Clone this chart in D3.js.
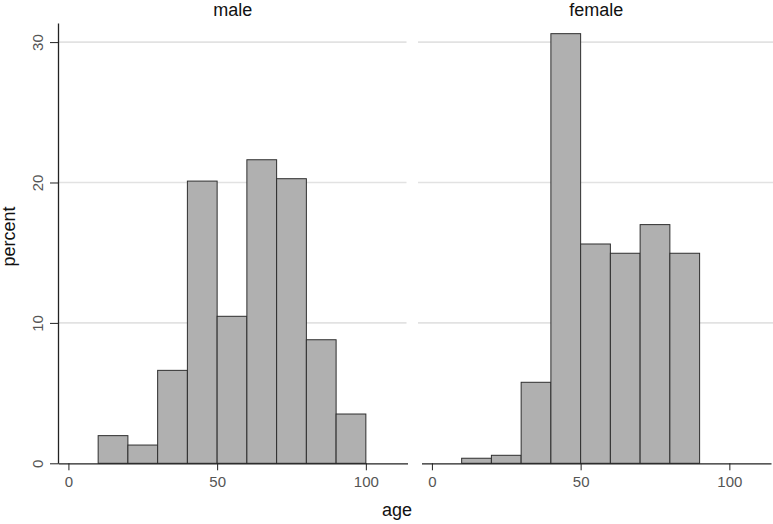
<!DOCTYPE html>
<html>
<head>
<meta charset="utf-8">
<script src="https://cdn.jsdelivr.net/npm/d3@7"></script>
<style>
  html, body { margin: 0; padding: 0; background: #fff; }
  svg { display: block; font-family: "Liberation Sans", Arial, sans-serif; }
</style>
</head>
<body>
<svg id="chart" width="773" height="524"></svg>
<script>
// ---- data ----
const binStarts = [10, 20, 30, 40, 50, 60, 70, 80, 90];
const binWidth = 10;
const maleValues = [1.97, 1.30, 6.62, 20.10, 10.47, 21.62, 20.27, 8.80, 3.51];
const femaleValues = [0.36, 0.57, 5.77, 30.60, 15.62, 14.96, 17.00, 14.96, 0];
const panelTitles = ["male", "female"];
const xTickValues = [0, 50, 100];
const yTickValues = [0, 10, 20, 30];
const yGridValues = [10, 20, 30];
const xLabel = "age";
const yLabel = "percent";

const svg = d3.select("#chart");

const y = d3.scaleLinear().domain([0, 31.36]).range([463.3, 23]);
const xDomain = [-3.5, 114];

const panels = [
  { title: panelTitles[0], values: maleValues, range: [58, 407.5], grid: [58, 406.5], yAxis: true },
  { title: panelTitles[1], values: femaleValues, range: [421.5, 771], grid: [418, 773], yAxis: false }
];

panels.forEach(p => {
  const x = d3.scaleLinear().domain(xDomain).range(p.range);
  const g = svg.append("g");

  // gridlines
  g.selectAll("line.grid").data(yGridValues).enter().append("line")
    .attr("class", "grid")
    .attr("x1", p.grid[0]).attr("x2", p.grid[1])
    .attr("y1", d => y(d)).attr("y2", d => y(d))
    .attr("stroke", "#e2e2e2").attr("stroke-width", 1.6);

  // bars
  const data = binStarts.map((s, i) => ({ s: s, v: p.values[i] })).filter(d => d.v > 0);
  g.selectAll("rect.bar").data(data).enter().append("rect")
    .attr("class", "bar")
    .attr("x", d => x(d.s))
    .attr("width", d => x(d.s + binWidth) - x(d.s))
    .attr("y", d => y(d.v))
    .attr("height", d => y(0) - y(d.v))
    .attr("fill", "#b0b0b0")
    .attr("stroke", "#2e2e2e")
    .attr("stroke-width", 1);

  // x axis
  const xAxis = d3.axisBottom(x).tickValues(xTickValues).tickSize(7).tickSizeOuter(0).tickPadding(6);
  const xg = g.append("g").attr("transform", `translate(0,${y(0)})`).call(xAxis);
  xg.select(".domain").attr("stroke", "#222").attr("stroke-width", 1.3);
  xg.selectAll(".tick line").attr("stroke", "#222").attr("stroke-width", 1);
  xg.selectAll(".tick text").attr("font-size", 15).attr("fill", "#555")
    .attr("font-family", "'Liberation Sans', Arial, sans-serif");

  // y axis
  if (p.yAxis) {
    const yAxis = d3.axisLeft(y).tickValues(yTickValues).tickSize(8).tickSizeOuter(0);
    const yg = g.append("g").attr("transform", `translate(${p.range[0]},0)`).call(yAxis);
    yg.select(".domain").attr("stroke", "#222").attr("stroke-width", 1.3);
    yg.selectAll(".tick line").attr("stroke", "#222").attr("stroke-width", 1);
    yg.selectAll(".tick text")
      .attr("font-size", 15).attr("fill", "#555")
      .attr("font-family", "'Liberation Sans', Arial, sans-serif")
      .attr("x", 0).attr("dy", 0)
      .attr("text-anchor", "middle")
      .attr("transform", "translate(-15,0) rotate(-90)");
  }

  // title
  svg.append("text")
    .attr("x", (p.range[0] + p.range[1]) / 2)
    .attr("y", 16)
    .attr("text-anchor", "middle")
    .attr("font-size", 18)
    .attr("fill", "#111")
    .text(p.title);
});

// axis titles
svg.append("text")
  .attr("x", 397).attr("y", 516)
  .attr("text-anchor", "middle")
  .attr("font-size", 18).attr("fill", "#111")
  .text(xLabel);

svg.append("text")
  .attr("transform", "translate(15,236.5) rotate(-90)")
  .attr("text-anchor", "middle")
  .attr("font-size", 18).attr("fill", "#111")
  .text(yLabel);
</script>
</body>
</html>
